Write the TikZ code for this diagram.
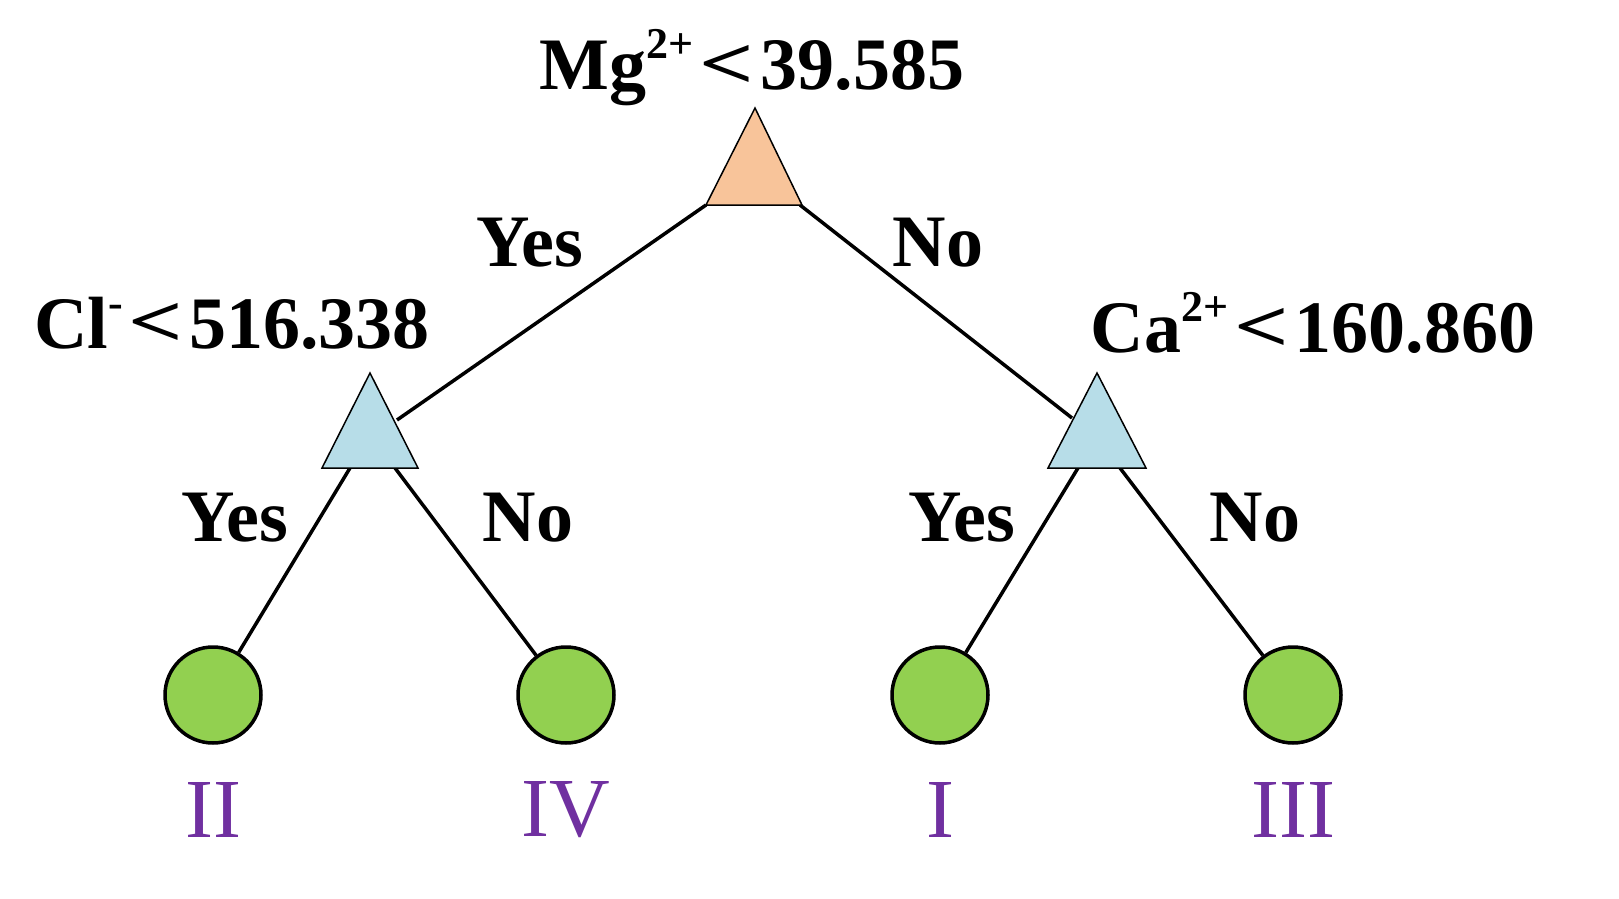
\documentclass[tikz,border=0pt]{standalone}
\usepackage{fontspec}
\setmainfont{Liberation Serif}
\newcommand{\mysup}[1]{\raisebox{0.42em}{\fontsize{44}{44}\selectfont #1}}
\newcommand{\mylt}{\hspace{0.08em}\raisebox{0.02em}{\scalebox{1.3}[1]{<}}\hspace{0.08em}}
\begin{document}
\begin{tikzpicture}[x=1pt,y=-1pt,
 tri/.style={draw=black,line width=1.5pt,line join=miter},
 edge/.style={line width=3.5pt},
 leaf/.style={circle,draw=black,line width=3.5pt,fill=leafg,minimum size=96pt,inner sep=0pt},
 lab/.style={font=\fontsize{74}{80}\selectfont\bfseries},
 cls/.style={font=\fontsize{84}{90}\selectfont,text=clsp}]
\definecolor{leafg}{HTML}{92D050}
\definecolor{clsp}{HTML}{7030A0}
\definecolor{torange}{HTML}{F8C49A}
\definecolor{tblue}{HTML}{B7DDE8}
\useasboundingbox (0,0) rectangle (1619,899);
\coordinate (t1a) at (706,205); \coordinate (t1b) at (800,205);
\coordinate (t2r) at (397,420); \coordinate (t3l) at (1072,418);
\draw[edge] (t1a) -- (t2r);
\draw[edge] (t1b) -- (t3l);
\node[leaf] (l1) at (213,695) {};
\node[leaf] (l2) at (566,695) {};
\node[leaf] (l3) at (940,695) {};
\node[leaf] (l4) at (1293,695) {};
\coordinate (t2bl) at (350,468); \coordinate (t2br) at (395,468);
\coordinate (t3bl) at (1078,468); \coordinate (t3br) at (1120,468);
\draw[edge] (t2bl) -- (l1); \draw[edge] (t2br) -- (l2);
\draw[edge] (t3bl) -- (l3); \draw[edge] (t3br) -- (l4);
\filldraw[tri,fill=torange] (755,108) -- (802,205) -- (706,205) -- cycle;
\filldraw[tri,fill=tblue] (370,373) -- (418,468) -- (322,468) -- cycle;
\filldraw[tri,fill=tblue] (1097,373) -- (1146,468) -- (1048,468) -- cycle;
\node[lab] (r) at (752,68) {Mg\mysup{2+}\mylt39.585};
\node[lab] (c2) at (232,323) {Cl\mysup{-}\mylt516.338};
\node[lab] (c3) at (1313,323) {Ca\mysup{2+}\mylt160.860};
\node[lab] (y1) at (530,243) {Yes};
\node[lab] (n1) at (938,243) {No};
\node[lab] (y2) at (235,518) {Yes};
\node[lab] (n2) at (528,518) {No};
\node[lab] (y3) at (962,518) {Yes};
\node[lab] (n3) at (1255,518) {No};
\node[cls] (k1) at (213,810) {II};
\node[cls] (k2) at (566,810) {IV};
\node[cls] (k3) at (940,810) {I};
\node[cls] (k4) at (1293,810) {III};
\end{tikzpicture}
\end{document}
